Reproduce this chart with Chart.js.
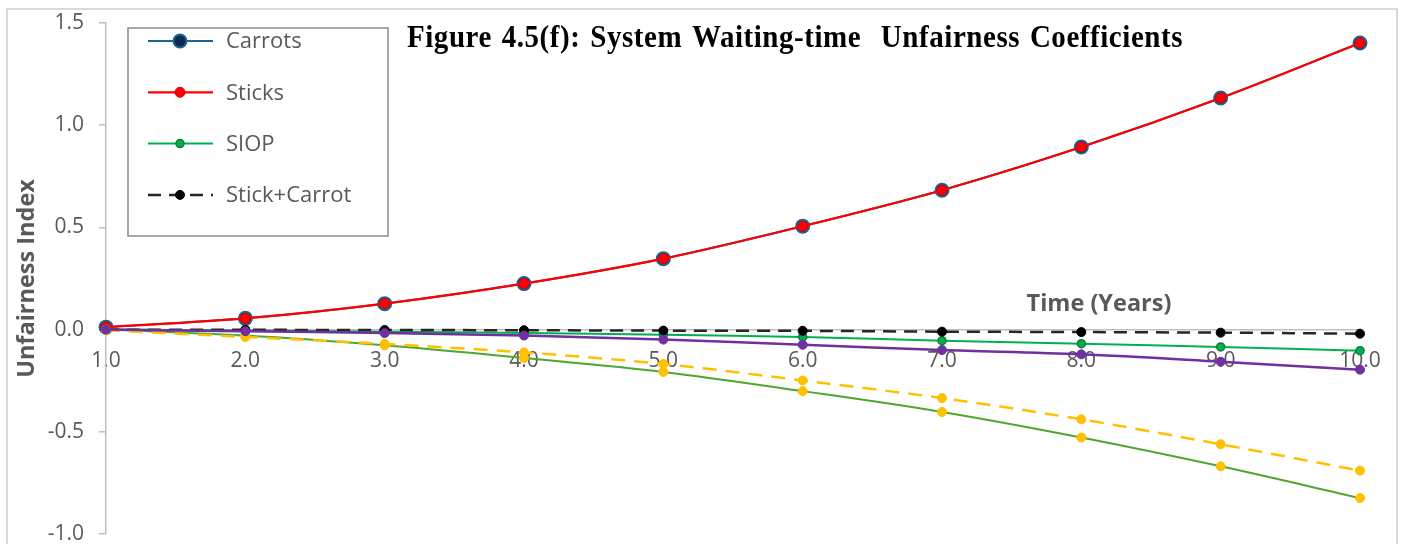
<!DOCTYPE html>
<html>
<head>
<meta charset="utf-8">
<script src="https://cdn.jsdelivr.net/npm/chart.js@4.4.1/dist/chart.umd.min.js"></script>
<style>
  html, body { margin: 0; padding: 0; background: #fff; }
  #wrap { width: 1405px; height: 544px; position: relative; }
</style>
</head>
<body>
<div id="wrap"><canvas id="chart" width="1405" height="544"></canvas></div>
<script>
// Years on the horizontal axis and value ticks on the vertical axis
const years = ['1.0', '2.0', '3.0', '4.0', '5.0', '6.0', '7.0', '8.0', '9.0', '10.0'];
const yTicks = [-1.0, -0.5, 0.0, 0.5, 1.0, 1.5];

// Unfairness index per year for each policy
const carrots     = [0.012, 0.055, 0.127, 0.225, 0.347, 0.506, 0.682, 0.893, 1.133, 1.402];
const sticks      = [0.012, 0.055, 0.127, 0.225, 0.347, 0.506, 0.682, 0.893, 1.133, 1.402];
const siop        = [0.000, -0.004, -0.010, -0.017, -0.025, -0.036, -0.054, -0.069, -0.085, -0.103];
const stickCarrot = [0.000, -0.001, -0.002, -0.003, -0.005, -0.006, -0.010, -0.012, -0.015, -0.020];
const seriesE     = [0.000, -0.029, -0.077, -0.139, -0.207, -0.301, -0.403, -0.528, -0.669, -0.824];
const seriesF     = [-0.003, -0.036, -0.070, -0.112, -0.168, -0.249, -0.335, -0.439, -0.561, -0.690];
const seriesG     = [0.000, -0.008, -0.017, -0.029, -0.049, -0.074, -0.100, -0.121, -0.157, -0.196];

const legendNames = ['Carrots', 'Sticks', 'SIOP', 'Stick+Carrot'];
const titleText = 'Figure 4.5(f): System Waiting-time  Unfairness Coefficients';
const xCaption = 'Time (Years)';
const yCaption = 'Unfairness Index';

const GREY_TEXT = '#595959';
const AXIS_GREY = '#bfbfbf';
const SANS = '"Open Sans", "Liberation Sans", sans-serif';

Chart.defaults.font.family = SANS;

// Frame, heading, axis caption and the boxed legend
const decor = {
  id: 'decor',
  beforeDraw(chart) {
    const ctx = chart.ctx;
    ctx.save();
    ctx.fillStyle = '#ffffff';
    ctx.fillRect(0, 0, chart.width, chart.height);
    ctx.strokeStyle = '#d9d9d9';
    ctx.lineWidth = 2;
    ctx.strokeRect(7, 9, 1390, 600);
    ctx.restore();
  },
  afterDraw(chart) {
    const ctx = chart.ctx;
    ctx.save();

    // heading: tall serif face
    ctx.save();
    ctx.fillStyle = '#000000';
    ctx.font = 'bold 29px "Liberation Serif", "Times New Roman", serif';
    ctx.textAlign = 'left';
    ctx.textBaseline = 'alphabetic';
    if ('letterSpacing' in ctx) ctx.letterSpacing = '0.55px';
    if ('wordSpacing' in ctx) ctx.wordSpacing = '2px';
    ctx.translate(407, 47);
    ctx.scale(1, 1.1);
    ctx.fillText(titleText, 0, 0);
    ctx.restore();

    // horizontal axis caption
    ctx.fillStyle = GREY_TEXT;
    ctx.font = 'bold 23.5px ' + SANS;
    ctx.textAlign = 'center';
    ctx.textBaseline = 'middle';
    ctx.fillText(xCaption, 1099, 304);

    // legend box
    ctx.strokeStyle = '#8c8c8c';
    ctx.lineWidth = 1.5;
    ctx.strokeRect(128, 28, 260, 208);

    ctx.font = '22px ' + SANS;
    ctx.textAlign = 'left';
    ctx.textBaseline = 'middle';
    legendNames.forEach((name, i) => {
      const ds = chart.data.datasets[i];
      const y = 41 + i * 51.3;
      ctx.strokeStyle = ds.borderColor;
      ctx.lineWidth = ds.borderWidth;
      ctx.setLineDash(ds.borderDash || []);
      ctx.beginPath();
      ctx.moveTo(148, y);
      ctx.lineTo(213, y);
      ctx.stroke();
      ctx.setLineDash([]);
      ctx.beginPath();
      ctx.arc(180, y, ds.pointRadius, 0, Math.PI * 2);
      ctx.fillStyle = ds.pointBackgroundColor;
      ctx.fill();
      ctx.lineWidth = ds.pointBorderWidth;
      ctx.strokeStyle = ds.pointBorderColor;
      ctx.stroke();
      ctx.fillStyle = GREY_TEXT;
      ctx.fillText(name, 226, y + 1);
    });
    ctx.restore();
  }
};

const common = { tension: 0.33, fill: false, pointHoverRadius: 0 };

new Chart(document.getElementById('chart'), {
  type: 'line',
  data: {
    labels: years,
    datasets: [
      Object.assign({}, common, {
        label: legendNames[0], data: carrots, order: 7,
        borderColor: '#1f6391', borderWidth: 2,
        pointRadius: 6.5, pointBackgroundColor: '#0d2b52',
        pointBorderColor: '#1f6391', pointBorderWidth: 2
      }),
      Object.assign({}, common, {
        label: legendNames[1], data: sticks, order: 6,
        borderColor: '#ff0000', borderWidth: 2.2,
        pointRadius: 5, pointBackgroundColor: '#ff0000',
        pointBorderColor: '#e60000', pointBorderWidth: 1
      }),
      Object.assign({}, common, {
        label: legendNames[2], data: siop, order: 5,
        borderColor: '#00b050', borderWidth: 2,
        pointRadius: 4, pointBackgroundColor: '#00b050',
        pointBorderColor: '#137a3c', pointBorderWidth: 1.5
      }),
      Object.assign({}, common, {
        label: legendNames[3], data: stickCarrot, order: 4,
        borderColor: '#262626', borderWidth: 2.5, borderDash: [13, 8],
        pointRadius: 4.5, pointBackgroundColor: '#000000',
        pointBorderColor: '#000000', pointBorderWidth: 1
      }),
      Object.assign({}, common, {
        label: 'E', data: seriesE, order: 3,
        borderColor: '#4ea72e', borderWidth: 2,
        pointRadius: 4.5, pointBackgroundColor: '#ffc000',
        pointBorderColor: '#ffc000', pointBorderWidth: 1
      }),
      Object.assign({}, common, {
        label: 'F', data: seriesF, order: 2,
        borderColor: '#ffc000', borderWidth: 2.5, borderDash: [14, 9],
        pointRadius: 4.5, pointBackgroundColor: '#ffc000',
        pointBorderColor: '#ffc000', pointBorderWidth: 1
      }),
      Object.assign({}, common, {
        label: 'G', data: seriesG, order: 1,
        borderColor: '#7030a0', borderWidth: 2.5,
        pointRadius: 4.5, pointBackgroundColor: '#7030a0',
        pointBorderColor: '#7030a0', pointBorderWidth: 1
      })
    ]
  },
  options: {
    responsive: false,
    devicePixelRatio: 1,
    animation: false,
    events: [],
    layout: { padding: { top: 23, right: 45, bottom: 10, left: 0 } },
    plugins: {
      legend: { display: false },
      tooltip: { enabled: false },
      title: { display: false }
    },
    scales: {
      x: {
        type: 'category',
        position: { y: 0 },
        offset: false,
        grid: { drawOnChartArea: false, drawTicks: false },
        border: { color: AXIS_GREY, width: 1.5 },
        ticks: { color: GREY_TEXT, font: { size: 21 }, padding: 19, maxRotation: 0, autoSkip: false }
      },
      y: {
        type: 'linear',
        min: -1.0,
        max: 1.5,
        afterBuildTicks(scale) { scale.ticks = yTicks.map(v => ({ value: v })); },
        afterFit(scale) { scale.width = 106; scale.paddingTop = 0; scale.paddingBottom = 0; },
        grid: { drawOnChartArea: false, drawTicks: true, tickLength: 7, color: AXIS_GREY, lineWidth: 1.5 },
        border: { color: AXIS_GREY, width: 1.5 },
        ticks: { color: GREY_TEXT, font: { size: 21 }, padding: 15, callback: v => Number(v).toFixed(1) },
        title: { display: true, text: yCaption, color: GREY_TEXT, font: { size: 23.5, weight: 'bold' }, padding: { top: 13, bottom: 0 } }
      }
    }
  },
  plugins: [decor]
});
</script>
</body>
</html>
